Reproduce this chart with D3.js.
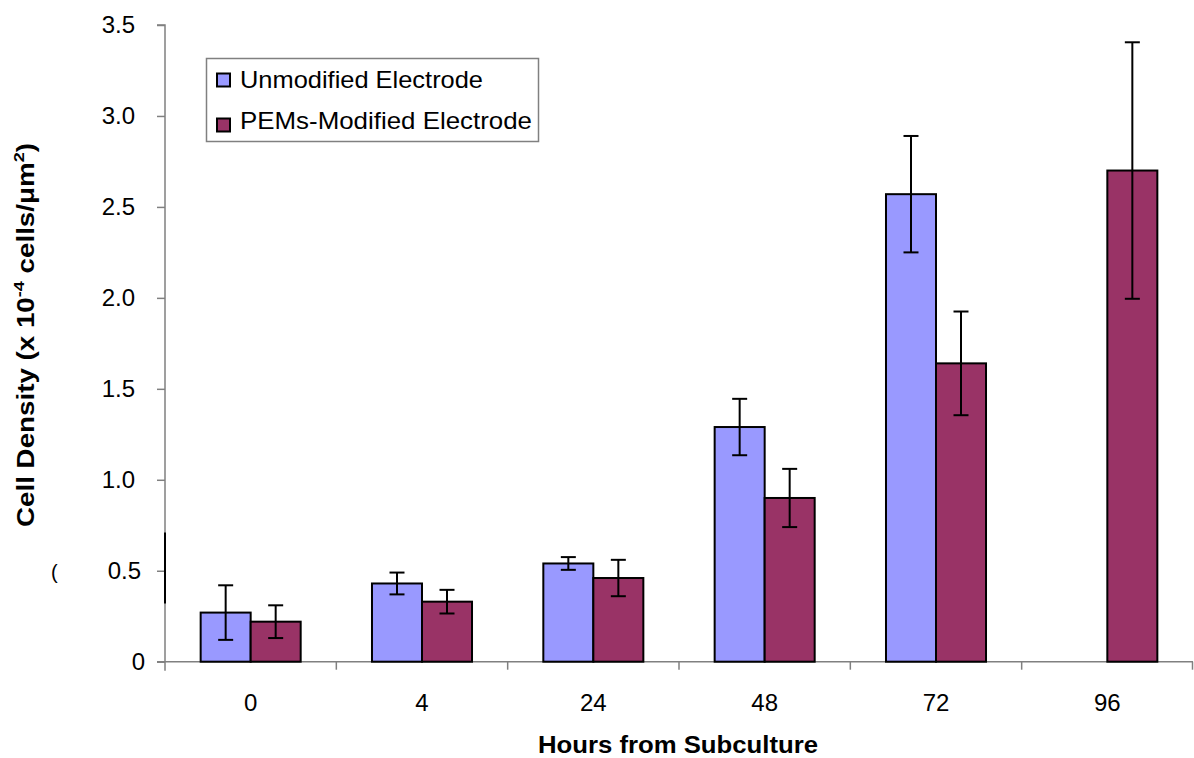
<!DOCTYPE html>
<html>
<head>
<meta charset="utf-8">
<script src="https://cdn.jsdelivr.net/npm/d3@7"></script>
<style>
  body { margin: 0; background: #fff; }
  text { font-family: "Liberation Sans", Arial, sans-serif; fill: #000; }
</style>
</head>
<body>
<div id="chart-container"></div>
<script>
const hours = ["0", "4", "24", "48", "72", "96"];
const seriesNames = ["Unmodified Electrode", "PEMs-Modified Electrode"];
const unmodified = [0.27, 0.43, 0.54, 1.29, 2.57, null];
const unmodifiedErr = [0.15, 0.06, 0.035, 0.155, 0.32, null];
const pems = [0.22, 0.33, 0.46, 0.90, 1.64, 2.70];
const pemsErr = [0.09, 0.065, 0.10, 0.16, 0.285, 0.705];
const yTicks = [0, 0.5, 1.0, 1.5, 2.0, 2.5, 3.0, 3.5];
const colors = ["#9999ff", "#993366"];

const width = 1194, height = 758;
const margin = { top: 25, right: 1, bottom: 96.3, left: 165 };

function drawChart() {
  d3.select("#chart-container").select("svg").remove();

  const svg = d3
    .select("#chart-container")
    .append("svg")
    .attr("width", width)
    .attr("height", height);

  const x0 = d3
    .scaleBand()
    .domain(hours)
    .range([margin.left, width - margin.right])
    .padding(0);

  const x1 = d3
    .scaleBand()
    .domain(seriesNames)
    .range([0, x0.bandwidth()])
    .paddingInner(0)
    .paddingOuter(0.713);

  const y = d3
    .scaleLinear()
    .domain([0, 3.5])
    .range([height - margin.bottom, margin.top]);

  // rows for each bar
  const rows = [];
  hours.forEach((h, i) => {
    [unmodified, pems].forEach((vals, s) => {
      const errs = s === 0 ? unmodifiedErr : pemsErr;
      if (vals[i] != null) {
        rows.push({ hour: h, series: seriesNames[s], s: s, value: vals[i], err: errs[i] });
      }
    });
  });

  // y axis
  const yAxis = svg
    .append("g")
    .attr("transform", `translate(${margin.left},0)`)
    .call(
      d3.axisLeft(y)
        .tickValues(yTicks)
        .tickSize(8)
        .tickPadding(22)
        .tickFormat((d) => (d === 0 ? "0" : d3.format(".1f")(d)))
    );
  yAxis.select(".domain").attr("stroke", "#808080").attr("stroke-width", 1.5)
    .attr("d", `M-8,${y(3.5)}H0V${y(0) + 9}`);
  yAxis.selectAll(".tick line").attr("stroke", "#808080").attr("stroke-width", 1.5);
  yAxis.selectAll(".tick text")
    .style("font-size", "24px")
    .attr("fill", "#000")
    .attr("dx", (d) => (d === 0 ? 10 : d === 0.5 ? 6 : 0));

  // x axis
  const xAxis = svg
    .append("g")
    .attr("transform", `translate(0,${y(0)})`)
    .call(d3.axisBottom(x0).tickSize(0).tickPadding(32));
  xAxis.select(".domain").attr("stroke", "#808080").attr("stroke-width", 1.5)
    .attr("d", `M${margin.left - 8},0H${width - margin.right}`);
  xAxis.selectAll(".tick text").style("font-size", "24px").attr("fill", "#000");
  xAxis
    .selectAll(".sep")
    .data(hours.slice(1).concat(["end"]))
    .enter()
    .append("line")
    .attr("x1", (d) => (d === "end" ? width - margin.right - 0.5 : x0(d)))
    .attr("x2", (d) => (d === "end" ? width - margin.right - 0.5 : x0(d)))
    .attr("y1", 0)
    .attr("y2", 8)
    .attr("stroke", "#808080")
    .attr("stroke-width", 1.5);

  // stray mark on the y axis seen in the original
  svg.append("line")
    .attr("x1", margin.left).attr("x2", margin.left)
    .attr("y1", y(0.71)).attr("y2", y(0.32))
    .attr("stroke", "#000").attr("stroke-width", 2);
  svg.append("text")
    .attr("x", 51).attr("y", 579)
    .style("font-size", "20px")
    .attr("fill", "#000")
    .text("(");

  // bars
  const bars = svg.append("g").selectAll().data(rows).enter();

  bars
    .append("rect")
    .attr("x", (d) => x0(d.hour) + x1(d.series))
    .attr("y", (d) => y(d.value))
    .attr("width", x1.bandwidth())
    .attr("height", (d) => y(0) - y(d.value))
    .style("fill", (d) => colors[d.s])
    .style("stroke", "#000")
    .style("stroke-width", 2);

  // error bars
  const cx = (d) => x0(d.hour) + x1(d.series) + x1.bandwidth() / 2;
  const errG = svg.append("g").attr("stroke", "#000").attr("stroke-width", 2);
  errG.selectAll(".ev").data(rows).enter().append("line")
    .attr("x1", cx).attr("x2", cx)
    .attr("y1", (d) => y(d.value + d.err))
    .attr("y2", (d) => y(d.value - d.err));
  [1, -1].forEach((sgn) => {
    errG.selectAll(".cap" + sgn).data(rows).enter().append("line")
      .attr("x1", (d) => cx(d) - 7.5).attr("x2", (d) => cx(d) + 7.5)
      .attr("y1", (d) => y(d.value + sgn * d.err))
      .attr("y2", (d) => y(d.value + sgn * d.err));
  });

  // legend
  const legendWidths = [243, 292];
  const legend = svg.append("g");
  legend.append("rect")
    .attr("x", 206.5).attr("y", 58.5)
    .attr("width", 332).attr("height", 83)
    .attr("fill", "#fff")
    .attr("stroke", "#808080")
    .attr("stroke-width", 1.5);
  seriesNames.forEach((name, i) => {
    legend.append("rect")
      .attr("x", 217).attr("y", 73.5 + i * 45)
      .attr("width", 13).attr("height", 13)
      .attr("fill", colors[i])
      .attr("stroke", "#000")
      .attr("stroke-width", 2);
    legend.append("text")
      .attr("x", 240).attr("y", 88 + i * 41)
      .attr("textLength", legendWidths[i])
      .attr("lengthAdjust", "spacingAndGlyphs")
      .style("font-size", "24px")
      .text(name);
  });

  // axis titles
  svg.append("text")
    .attr("x", 538)
    .attr("y", 753)
    .attr("textLength", 280)
    .attr("lengthAdjust", "spacingAndGlyphs")
    .style("font-size", "23px")
    .style("font-weight", "bold")
    .text("Hours from Subculture");

  const yt = svg.append("text")
    .attr("transform", "translate(34,527) rotate(-90)")
    .attr("textLength", 384)
    .attr("lengthAdjust", "spacingAndGlyphs")
    .style("font-size", "23px")
    .style("font-weight", "bold");
  yt.append("tspan").text("Cell Density (x 10");
  yt.append("tspan").attr("dy", -10).style("font-size", "15px").text("-4");
  yt.append("tspan").attr("dy", 10).text(" cells/\u03bcm");
  yt.append("tspan").attr("dy", -10).style("font-size", "15px").text("2");
  yt.append("tspan").attr("dy", 10).text(")");
}

drawChart();
</script>
</body>
</html>
